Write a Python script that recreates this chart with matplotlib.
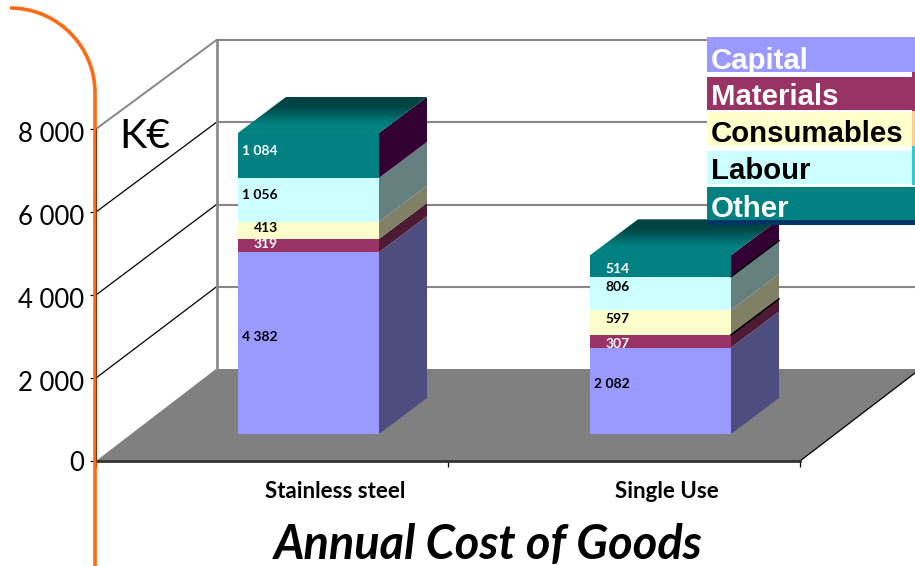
import matplotlib
matplotlib.use('Agg')
import matplotlib.pyplot as plt
from matplotlib.colors import LinearSegmentedColormap
from matplotlib.patches import Polygon, Rectangle
from matplotlib.transforms import ScaledTranslation
import numpy as np

# Data
products = ['Stainless steel', 'Single Use']
cost_types = ['Capital', 'Materials', 'Consumables', 'Labour', 'Other']
capital = [4382, 2082]
materials = [319, 307]
consumables = [413, 597]
labour = [1056, 806]
other = [1084, 514]
y_ticks = [0, 2000, 4000, 6000, 8000]
y_labels = ['0', '2 000', '4 000', '6 000', '8 000']

front_colors = ['#9999FF', '#993366', '#FFFFCC', '#CCFFFF', '#008080']
side_colors = ['#4D4D80', '#4D1A33', '#808066', '#668080', '#330033']
label_colors = ['black', 'white', 'black', 'black', 'white']
grid_gray = '#868686'
orange = '#FF6A13'

W, H = 915, 566
UNITS_PER_PX = 8000 / 332.0
ZERO_PX = 461
BACK_PX_PER_UNIT = 329 / 8000     # gridlines on the back wall
BAR_DX, BAR_DY = 48, 36           # depth of a column
BAR_LIFT = 27                     # columns stand this far behind the floor edge
BAR_W = 141

plt.rcParams['font.family'] = ['Lato', 'DejaVu Sans']

fig = plt.figure(figsize=(W / 100, H / 100), dpi=100)

# Walls and floor, in pixel coordinates
bg = fig.add_axes([0, 0, 1, 1], zorder=0)
bg.set_xlim(0, W)
bg.set_ylim(H, 0)
bg.axis('off')

bg.add_patch(Polygon([(96, 461), (216, 369), (915, 369), (915, 373), (800, 461)],
                     facecolor='#808080', edgecolor='none'))
bg.plot([800, 915], [461, 373], color='black', lw=0.9)
bg.plot([216.5, 216.5], [40, 369], color='#8C8C8C', lw=2)
for v in y_ticks[1:]:
    y_front = ZERO_PX - v / UNITS_PER_PX
    y_back = 369 - v * BACK_PX_PER_UNIT
    side = grid_gray if v == 8000 else 'black'
    bg.plot([96, 216.5], [y_front, y_back], color=side, lw=1.4 if v == 8000 else 0.9)
    bg.plot([216.5, 915], [y_back, y_back], color=grid_gray, lw=1.5)

# Value axes over the whole figure
ax = fig.add_axes([0, 0, 1, 1], zorder=1)
ax.patch.set_visible(False)

for s in ['top', 'right']:
    ax.spines[s].set_visible(False)
ax.spines['left'].set_position(('data', 96))
ax.spines['left'].set_bounds(0, 8000)
ax.spines['left'].set_color('#333333')
ax.spines['bottom'].set_position(('data', 0))
ax.spines['bottom'].set_bounds(96, 800)
ax.spines['bottom'].set_color('#333333')
ax.spines['bottom'].set_linewidth(2)
ax.set_yticks(y_ticks)
ax.set_yticklabels(y_labels, fontsize=18.5, color='black')
ax.tick_params(axis='y', length=4, width=0.9, pad=4.5)
ax.set_xticks([96, 448, 800])
ax.set_xticklabels([])
ax.tick_params(axis='x', length=4, width=0.9)

# the numbers sit a little below their tick marks
for lab in ax.get_yticklabels()[1:]:
    lab.set_transform(lab.get_transform() + ScaledTranslation(0, -3 / 100, fig.dpi_scale_trans))

# Stacked columns
series = [capital, materials, consumables, labour, other]
base = BAR_LIFT * UNITS_PER_PX
dy = BAR_DY * UNITS_PER_PX
label_nudge = [[-6, -1.5, -2, -5, -4], [-6.5, 3, -3, -6, 3]]
name_x = [335, 667]
top_shade = LinearSegmentedColormap.from_list('top_shade', ['#008080', '#004444'])
for i, name in enumerate(products):
    x = 308.5 + i * 352
    left, right = x - BAR_W / 2, x + BAR_W / 2
    bottom = base
    for j, values in enumerate(series):
        v = values[i]
        ax.bar(x, v, BAR_W, bottom=bottom, color=front_colors[j], zorder=3)
        ax.add_patch(Polygon([(right, bottom), (right + BAR_DX, bottom + dy),
                              (right + BAR_DX, bottom + v + dy), (right, bottom + v)],
                             facecolor=side_colors[j], edgecolor='none', zorder=3))
        text = f'{v:,}'.replace(',', ' ')
        ax.text(left + 40, bottom + v / 2 - label_nudge[i][j] * UNITS_PER_PX, text,
                ha='right', va='center', fontsize=10, fontweight='bold',
                color=label_colors[j], zorder=5)
        bottom += v
        if i == 1 and j in (1, 3):
            ax.plot([right, right + BAR_DX], [bottom, bottom + dy], color='black', lw=1.1, zorder=4)

    # top face, shaded towards the back
    top = Polygon([(left, bottom), (left + BAR_DX, bottom + dy),
                   (right + BAR_DX, bottom + dy), (right, bottom)],
                  facecolor='none', edgecolor='none', zorder=3)
    ax.add_patch(top)
    im = ax.imshow(np.array([[0.0], [1.0]]), extent=(left, right + BAR_DX, bottom, bottom + dy),
                   origin='lower', cmap=top_shade, aspect='auto', zorder=3, interpolation='bilinear')
    im.set_clip_path(top)
    ax.text(name_x[i], -30 * UNITS_PER_PX, name, ha='center', va='center',
            fontsize=16, fontweight='bold', zorder=5)

ax.set_xlim(0, W)
ax.set_ylim((ZERO_PX - H) * UNITS_PER_PX, ZERO_PX * UNITS_PER_PX)

# Overlay: orange rule, unit, legend blocks and title
fg = fig.add_axes([0, 0, 1, 1], zorder=2)
fg.patch.set_visible(False)
fg.set_xlim(0, W)
fg.set_ylim(H, 0)
fg.axis('off')

t = np.linspace(np.pi / 2, 0, 60)
arc_x = 10 + 85 * np.cos(t)
arc_y = 93 - 85 * np.sin(t)
fg.plot(np.r_[arc_x, 95], np.r_[arc_y, 566], color=orange, lw=2.6, solid_capstyle='butt')
fg.plot([95.5, 95.5], [129, 461], color='#7A3A10', lw=0.8)

fg.text(144.5, 137, 'K€', ha='center', va='center', fontsize=29.5)

# Legend blocks
blocks = [(37, 72), (77, 110), (111.5, 145.5), (151, 184), (187, 220)]
baselines = [69, 105, 142, 179, 217]
text_colors = ['white', 'white', 'black', 'black', 'white']
strips = [(72, 111, '#993366'), (111, 146, '#FFCC99'), (146, 185, '#33CCCC')]
for (y0, y1), c in zip(blocks, front_colors):
    fg.add_patch(Rectangle((707, y0), 208, y1 - y0, facecolor=c, edgecolor='none'))
fg.add_patch(Rectangle((707, 220), 208, 5, facecolor='#003366', edgecolor='none'))
for y0, y1, c in strips:
    fg.add_patch(Rectangle((912, y0), 3, y1 - y0, facecolor=c, edgecolor='none'))
for name, yb, c in zip(cost_types, baselines, text_colors):
    fg.text(711, yb, name, ha='left', va='baseline', fontsize=21.2, fontweight='bold',
            family='Liberation Sans', color=c)

fg.text(488.5, 545, 'Annual Cost of Goods', ha='center', va='center', fontsize=33.8,
        fontweight='bold', fontstyle='italic')

fig.savefig('out.png', dpi=100)
